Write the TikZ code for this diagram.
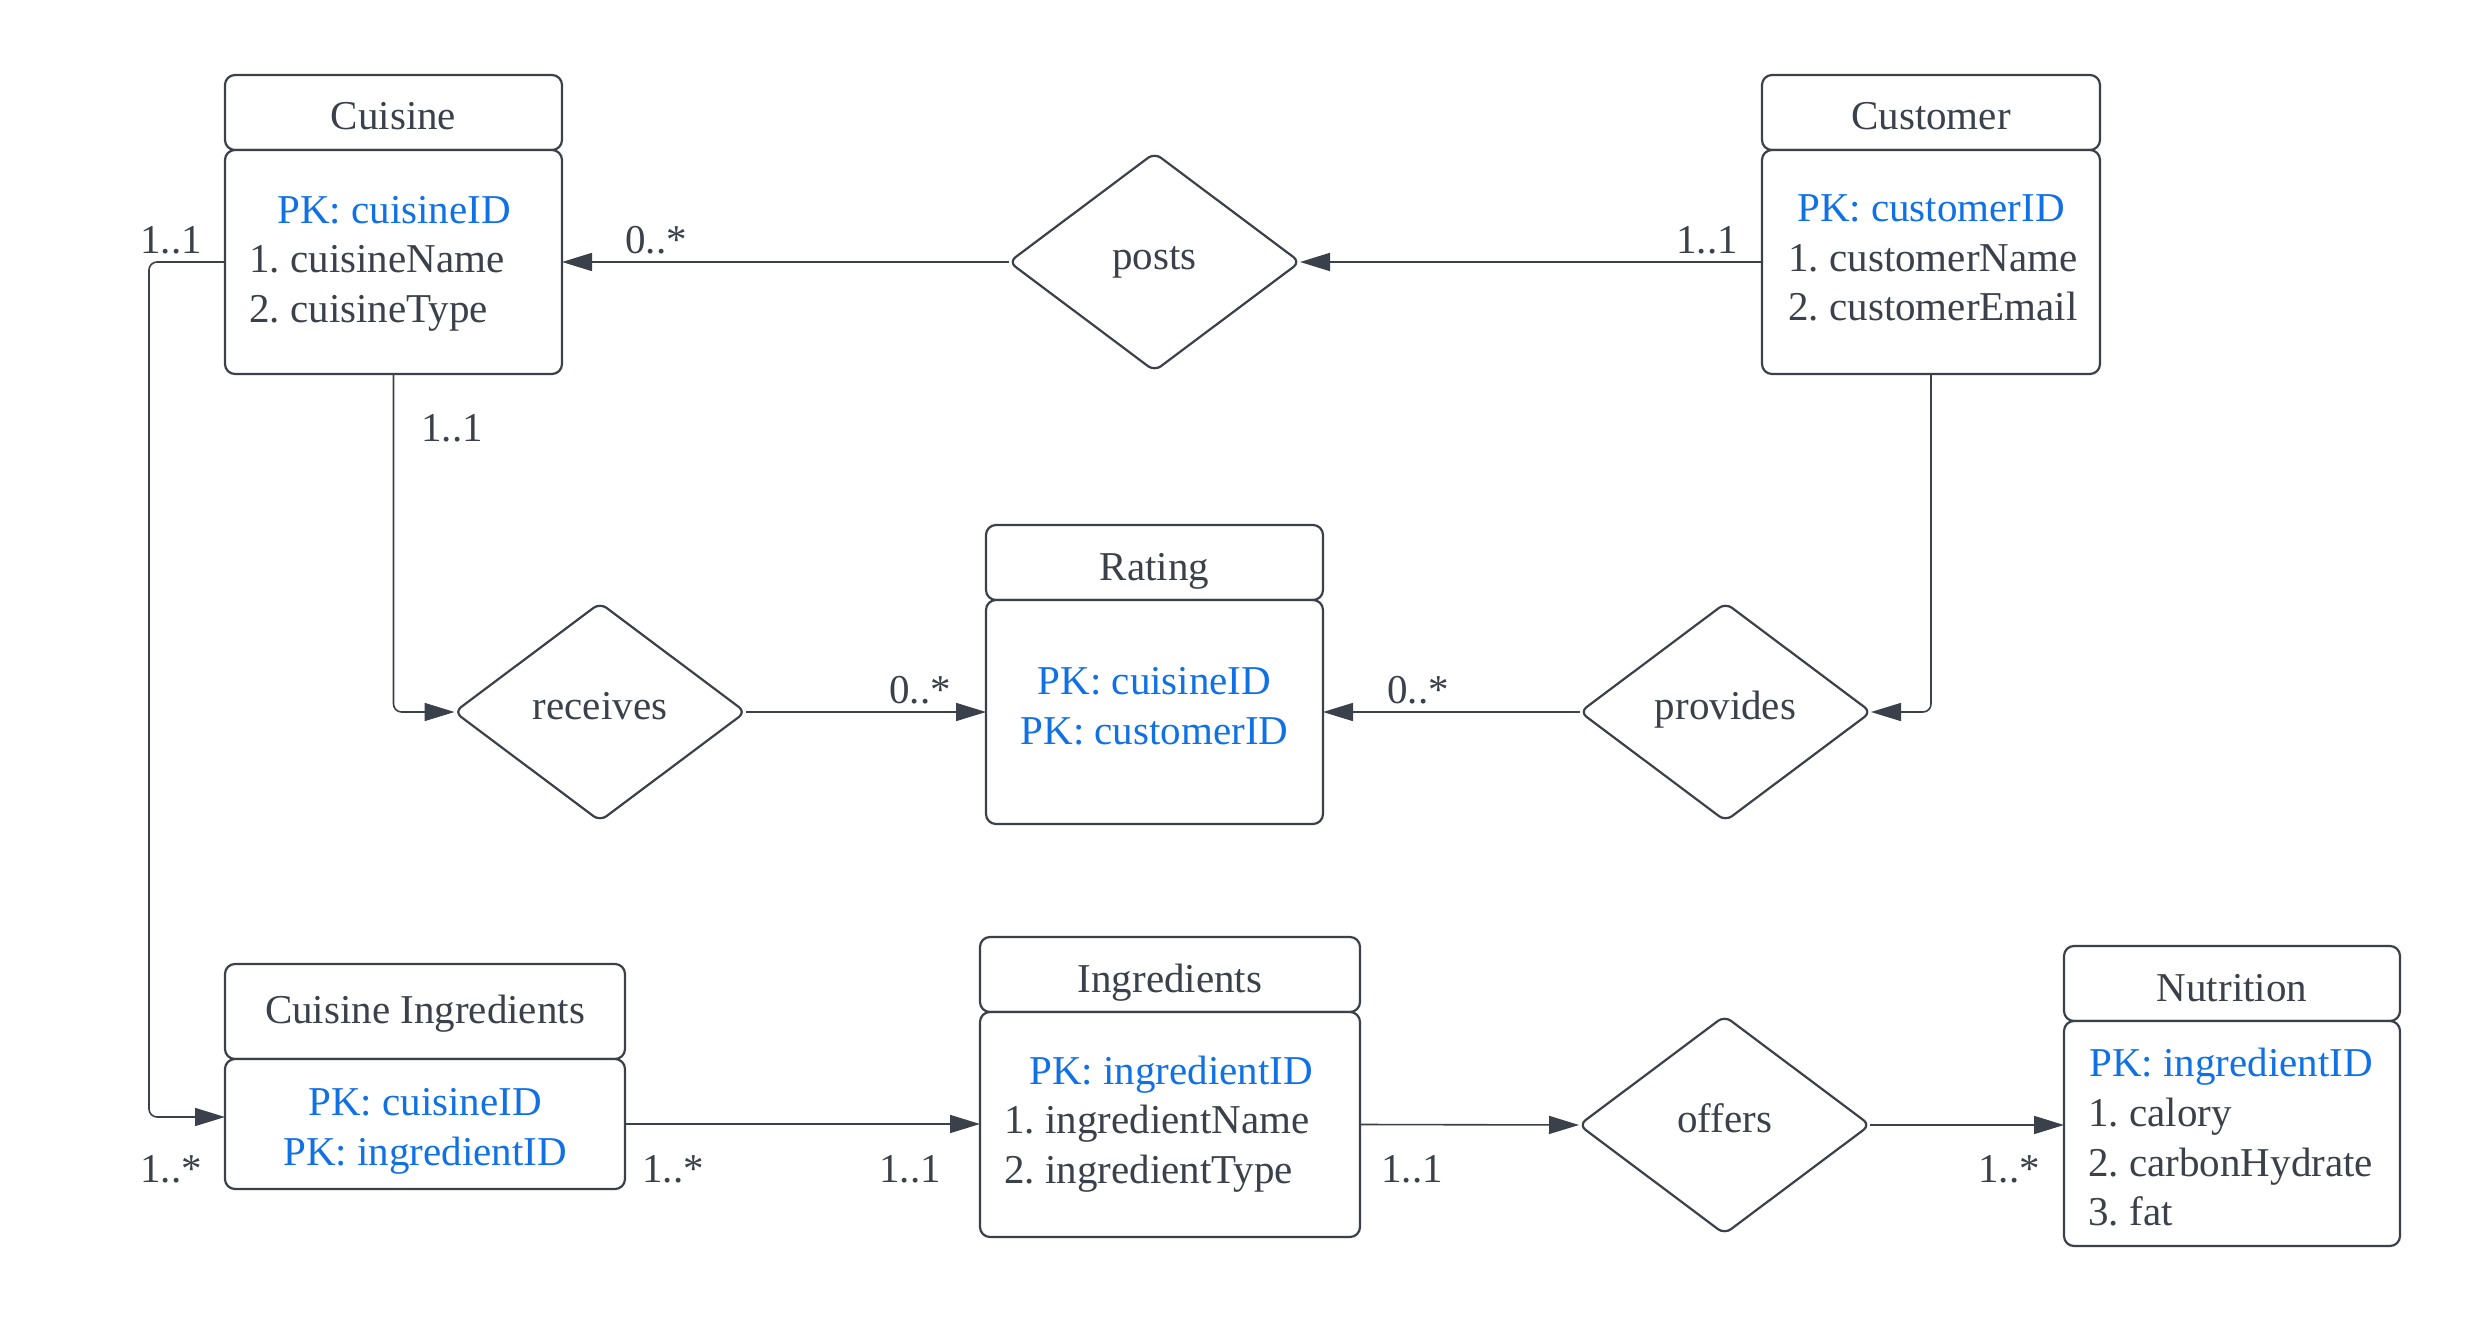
\documentclass[tikz,border=0pt]{standalone}
\usepackage{fontspec}
\setmainfont{Liberation Serif}
\usetikzlibrary{shapes.geometric,arrows.meta}
\definecolor{ink}{HTML}{3A414A}
\definecolor{pkblue}{HTML}{1071E5}
\begin{document}
\frenchspacing
\begin{tikzpicture}[x=0.5pt,y=-0.5pt,
  every node/.style={font=\fontsize{20.5}{25}\selectfont\frenchspacing, text=ink},
  box/.style={draw=ink, line width=1.1pt, rounded corners=5pt, fill=white,
    inner sep=0pt, outer sep=0pt},
  hdr/.style={box, text height=22pt, text depth=4.5pt},
  rel/.style={diamond, draw=ink, line width=1.1pt, rounded corners=4pt,
    fill=white, inner sep=0pt, outer sep=0pt, minimum width=145.5pt,
    minimum height=109pt, text height=14pt, text depth=7pt},
  key/.style={text=pkblue, anchor=base, inner sep=0pt},
  attr/.style={anchor=base west, inner sep=0pt},
  card/.style={anchor=base west, inner sep=0pt},
  link/.style={draw=ink, line width=0.8pt, rounded corners=4pt,
    -{Triangle[length=15pt,width=9pt]}},
]
\fill[white] (0,0) rectangle (2475,1322);
\useasboundingbox (0,0) rectangle (2475,1322);

% entities: title bar and attribute box
\node[hdr, minimum width=168.5pt, minimum height=37.5pt] (cuisineH) at (393.5,112.5) {Cuisine};
\node[box, minimum width=168.5pt, minimum height=112pt] (cuisine) at (393.5,262) {};
\node[key] (cuisinePK) at (394,223) {PK: cuisineID};
\node[attr] (cuisineA1) at (249,272) {1. cuisineName};
\node[attr] (cuisineA2) at (249,322) {2. cuisineType};

\node[hdr, minimum width=169pt, minimum height=37.5pt] (customerH) at (1931,112.5) {Customer};
\node[box, minimum width=169pt, minimum height=112pt] (customer) at (1931,262) {};
\node[key] (customerPK) at (1931,221) {PK: customerID};
\node[attr] (customerA1) at (1788,271) {1. customerName};
\node[attr] (customerA2) at (1788,320) {2. customerEmail};

\node[hdr, minimum width=168.5pt, minimum height=37.5pt] (ratingH) at (1154.5,562.5) {Rating};
\node[box, minimum width=168.5pt, minimum height=112pt] (rating) at (1154.5,712) {};
\node[key] (ratingPK1) at (1154.5,694) {PK: cuisineID};
\node[key] (ratingPK2) at (1154.5,744) {PK: customerID};

\node[hdr, text depth=10.5pt, minimum width=200pt, minimum height=47.5pt] (ciH) at (425,1011.5) {Cuisine Ingredients};
\node[box, minimum width=200pt, minimum height=65pt] (ci) at (425,1124) {};
\node[key] (ciPK1) at (425,1115) {PK: cuisineID};
\node[key] (ciPK2) at (425,1165) {PK: ingredientID};

\node[hdr, minimum width=190pt, minimum height=37.5pt] (ingredientsH) at (1170,974.5) {Ingredients};
\node[box, minimum width=190pt, minimum height=112.5pt] (ingredients) at (1170,1124.5) {};
\node[key] (ingredientsPK) at (1171,1084) {PK: ingredientID};
\node[attr] (ingredientsA1) at (1004,1133) {1. ingredientName};
\node[attr] (ingredientsA2) at (1004,1183) {2. ingredientType};

\node[hdr, minimum width=168pt, minimum height=37.5pt] (nutritionH) at (2232,983.5) {Nutrition};
\node[box, minimum width=168pt, minimum height=112.5pt] (nutrition) at (2232,1133.5) {};
\node[key] (nutritionPK) at (2231,1076) {PK: ingredientID};
\node[attr] (nutritionA1) at (2088,1126) {1. calory};
\node[attr] (nutritionA2) at (2088,1176) {2. carbonHydrate};
\node[attr] (nutritionA3) at (2088,1225) {3. fat};

% relationships
\node[rel] (posts) at (1154.5,262) {posts};
\node[rel] (receives) at (600,712) {receives};
\node[rel] (provides) at (1725.5,712) {provides};
\node[rel] (offers) at (1724.5,1125) {offers};

% connectors
\draw[link] (customer.west) -- (posts.east);
\draw[link] (posts.west) -- (cuisine.east);
\draw[link] (cuisine.south) |- (receives.west);
\draw[link] (receives.east) -- (rating.west);
\draw[link] (customer.south) |- (provides.east);
\draw[link] (provides.west) -- (rating.east);
\draw[link] (cuisine.west) -- ++(-76,0) |- (ci.west |- 0,1117);
\draw[link] (ci.east) -- (ci.east -| ingredients.west);
\draw[link] (ingredients.east) -- (offers.west);
\draw[link] (offers.east) -- (offers.east -| nutrition.west);

% cardinalities
\node[card] (m1) at (140,253) {1..1};
\node[card] (m2) at (625,253) {0..*};
\node[card] (m3) at (1676,253) {1..1};
\node[card] (m4) at (421,441) {1..1};
\node[card] (m5) at (889,703) {0..*};
\node[card] (m6) at (1387,703) {0..*};
\node[card] (m7) at (140,1182) {1..*};
\node[card] (m8) at (642,1182) {1..*};
\node[card] (m9) at (879,1182) {1..1};
\node[card] (m10) at (1381,1182) {1..1};
\node[card] (m11) at (1978,1182) {1..*};
\end{tikzpicture}
\end{document}
